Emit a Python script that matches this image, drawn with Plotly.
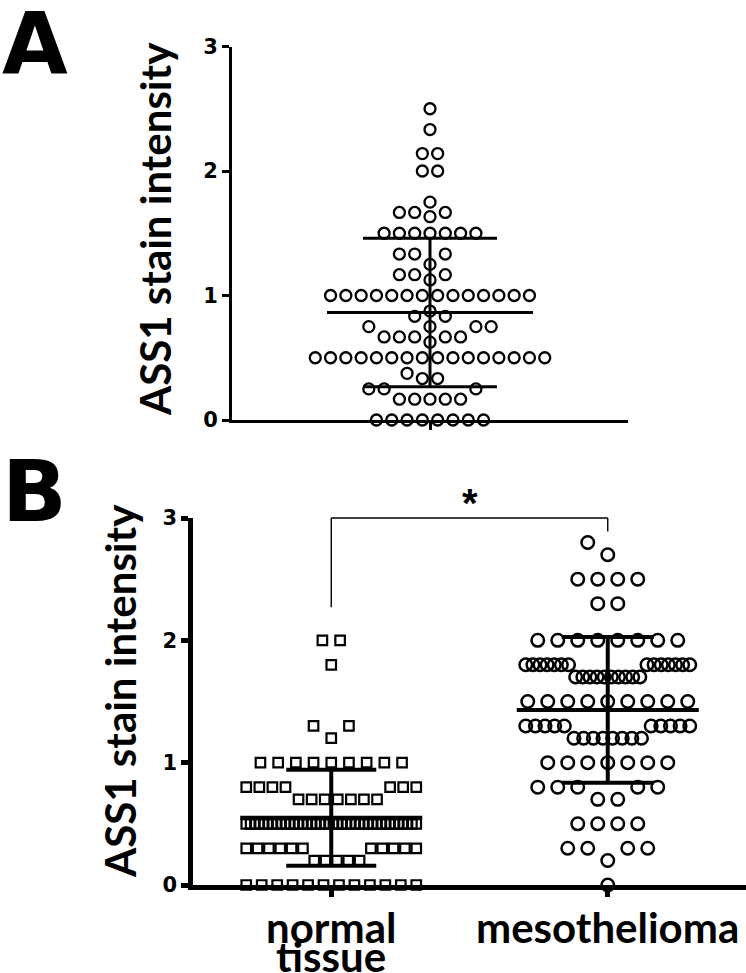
import numpy as np
import plotly.graph_objects as go

FIG_W, FIG_H = 746, 973

# ---------------- data ----------------
# Panel A: ASS1 stain intensity, single group (88 cases)
a_values = [
    0, 0, 0, 0, 0, 0, 0, 0,
    0.167, 0.167, 0.167, 0.167, 0.167,
    0.25, 0.25, 0.25,
    0.333, 0.333,
    0.375,
    0.5, 0.5, 0.5, 0.5, 0.5, 0.5, 0.5, 0.5, 0.5, 0.5, 0.5, 0.5, 0.5, 0.5, 0.5, 0.5,
    0.625,
    0.667, 0.667, 0.667, 0.667, 0.667,
    0.75, 0.75, 0.75, 0.75,
    0.833, 0.833,
    0.875,
    1.0, 1.0, 1.0, 1.0, 1.0, 1.0, 1.0, 1.0, 1.0, 1.0, 1.0, 1.0, 1.0, 1.0,
    1.125,
    1.167, 1.167, 1.167,
    1.25,
    1.333, 1.333, 1.333,
    1.5, 1.5, 1.5, 1.5, 1.5, 1.5, 1.5,
    1.633,
    1.667, 1.667, 1.667,
    1.75,
    2.0, 2.0,
    2.14, 2.14,
    2.333,
    2.5,
]

# Panel B categories and values
b_categories = ["normal tissue", "mesothelioma"]
normal_values = [
    0, 0, 0, 0, 0, 0, 0, 0, 0, 0, 0, 0,
    0.2, 0.2, 0.2, 0.2, 0.2,
    0.3, 0.3, 0.3, 0.3, 0.3, 0.3, 0.3, 0.3, 0.3, 0.3, 0.3,
    0.5, 0.5, 0.5, 0.5, 0.5, 0.5, 0.5, 0.5, 0.5, 0.5,
    0.5, 0.5, 0.5, 0.5, 0.5, 0.5, 0.5, 0.5, 0.5, 0.5,
    0.5, 0.5, 0.5, 0.5, 0.5, 0.5, 0.5, 0.5, 0.5, 0.5,
    0.5, 0.5, 0.5, 0.5, 0.5, 0.5, 0.5, 0.5, 0.5, 0.5,
    0.7, 0.7, 0.7, 0.7, 0.7, 0.7, 0.7,
    0.8, 0.8, 0.8, 0.8, 0.8, 0.8, 0.8,
    1.0, 1.0, 1.0, 1.0, 1.0, 1.0, 1.0, 1.0, 1.0,
    1.2,
    1.3, 1.3,
    1.8,
    2.0, 2.0,
]
meso_values = [
    0,
    0.2,
    0.3, 0.3, 0.3, 0.3,
    0.5, 0.5, 0.5, 0.5,
    0.7, 0.7,
    0.8, 0.8, 0.8, 0.8, 0.8,
    1.0, 1.0, 1.0, 1.0, 1.0, 1.0, 1.0,
    1.2, 1.2, 1.2, 1.2, 1.2, 1.2, 1.2, 1.2,
    1.3, 1.3, 1.3, 1.3, 1.3, 1.3, 1.3, 1.3, 1.3, 1.3,
    1.5, 1.5, 1.5, 1.5, 1.5, 1.5, 1.5, 1.5, 1.5,
    1.7, 1.7, 1.7, 1.7, 1.7, 1.7, 1.7, 1.7, 1.7, 1.7,
    1.8, 1.8, 1.8, 1.8, 1.8, 1.8, 1.8, 1.8, 1.8, 1.8, 1.8, 1.8, 1.8, 1.8,
    2.0, 2.0, 2.0, 2.0, 2.0, 2.0, 2.0, 2.0,
    2.3, 2.3,
    2.5, 2.5, 2.5, 2.5,
    2.7,
    2.8,
]
y_ticks = [0, 1, 2, 3]
y_title = "ASS1 stain intensity"
panel_labels = ["A", "B"]
sig_label = "*"

# ---------------- layout geometry (pixels) ----------------
A_X = (232, 628)
A_Y = (46.5, 420)
B_X = (193, 746)
B_Y = (518, 885)
Y_RANGE = [0, 3]
A_XRANGE = [-0.5, 0.5]
B_XRANGE = [-0.5, 1.5]


def px_x(p):
    return p / FIG_W


def px_y(p):
    return 1 - p / FIG_H


a_ppu_y = (A_Y[1] - A_Y[0]) / (Y_RANGE[1] - Y_RANGE[0])
b_ppu_y = (B_Y[1] - B_Y[0]) / (Y_RANGE[1] - Y_RANGE[0])
a_ppu_x = (A_X[1] - A_X[0]) / (A_XRANGE[1] - A_XRANGE[0])
b_ppu_x = (B_X[1] - B_X[0]) / (B_XRANGE[1] - B_XRANGE[0])


def swarm(values, ppu, s0, d, wmax, square):
    """Scatter-dot-plot layout: horizontal offsets (px) for each value."""
    keys = [round(v, 4) for v in values]
    levels = sorted(set(keys))
    counts = {lv: keys.count(lv) for lv in levels}
    rows = {}

    def hit(x, lv):
        for olv, xs in rows.items():
            dy = abs(olv - lv) * ppu
            if dy >= d:
                continue
            for ox in xs:
                dx = abs(ox - x)
                if square:
                    if dx < d:
                        return True
                elif dx * dx + dy * dy < d * d:
                    return True
        return False

    def slots(half):
        out = [] if half else [0.0]
        for i in range(0 if half else 1, 400):
            b = i + 0.5 if half else float(i)
            out += [-b, b]
        return out

    for lv in levels:
        n = counts[lv]
        best = None
        for half in ((n % 2 == 0), (n % 2 == 1)):
            chosen = []
            for sl in slots(half):
                x = sl * s0
                if not hit(x, lv):
                    chosen.append(x)
                    if len(chosen) == n:
                        break
            ext = max(abs(c) for c in chosen)
            if best is None or ext < best[0] - 1e-6:
                best = (ext, chosen)
        rows[lv] = sorted(best[1])
        if best[0] > wmax + 1e-6:
            placed = sorted(rows)
            i = placed.index(lv)
            lo = i
            while lo > 0 and (placed[lo] - placed[lo - 1]) * ppu < d:
                lo -= 1
            hi = i
            while hi < len(placed) - 1 and (placed[hi + 1] - placed[hi]) * ppu < d:
                hi += 1
            band = placed[lo:hi + 1]
            line = [band[0]] * counts[band[0]]
            for blv in band[1:]:
                m = counts[blv]
                left = (m + 1) // 2
                line = [blv] * left + line + [blv] * (m - left)
            N = len(line)
            sp = min(s0, 2 * wmax / (N - 1)) if N > 1 else s0
            newrows = {b: [] for b in band}
            for j, blv in enumerate(line):
                newrows[blv].append((j - (N - 1) / 2) * sp)
            rows.update(newrows)
    used = {lv: 0 for lv in levels}
    out = []
    for k in keys:
        out.append(rows[k][used[k]])
        used[k] += 1
    return out


fig = go.Figure()


def add_errorbars(center, vals, ppux, half_mean, half_cap, lw, xa, ya):
    m = float(np.mean(vals))
    sd = float(np.std(vals, ddof=1))
    hm = half_mean / ppux
    hc = half_cap / ppux
    segs = [
        ([center - hm, center + hm], [m, m]),
        ([center, center], [m - sd, m + sd]),
        ([center - hc, center + hc], [m + sd, m + sd]),
        ([center - hc, center + hc], [m - sd, m - sd]),
    ]
    for xs, ys in segs:
        fig.add_trace(go.Scatter(x=xs, y=ys, mode="lines", xaxis=xa, yaxis=ya,
                                 line=dict(color="black", width=lw),
                                 hoverinfo="skip", showlegend=False, cliponaxis=False))


# ---- Panel A ----
a_off = swarm(a_values, a_ppu_y, s0=15.3, d=14, wmax=115, square=False)
add_errorbars(0, a_values, a_ppu_x, 103, 67, 3, "x", "y")
fig.add_trace(go.Scatter(
    x=[o / a_ppu_x for o in a_off], y=a_values, mode="markers", xaxis="x", yaxis="y",
    marker=dict(symbol="circle-open", size=11, color="black", line=dict(width=2.3, color="black")),
    showlegend=False, cliponaxis=False))

# ---- Panel B ----
n_off = swarm(normal_values, b_ppu_y, s0=17.7, d=13, wmax=85, square=True)
m_off = swarm(meso_values, b_ppu_y, s0=20, d=16, wmax=82, square=False)
add_errorbars(0, normal_values, b_ppu_x, 91, 45, 4, "x2", "y2")
add_errorbars(1, meso_values, b_ppu_x, 91, 46, 4, "x2", "y2")
fig.add_trace(go.Scatter(
    x=[0 + o / b_ppu_x for o in n_off], y=normal_values, mode="markers", xaxis="x2", yaxis="y2",
    marker=dict(symbol="square-open", size=9.5, color="black", line=dict(width=2.2, color="black")),
    showlegend=False, cliponaxis=False))
fig.add_trace(go.Scatter(
    x=[1 + o / b_ppu_x for o in m_off], y=meso_values, mode="markers", xaxis="x2", yaxis="y2",
    marker=dict(symbol="circle-open", size=12.5, color="black", line=dict(width=2.5, color="black")),
    showlegend=False, cliponaxis=False))

# significance bracket (x on x2 axis, y as fraction of y2 domain)
def ydom(v):
    return (v - Y_RANGE[0]) / (Y_RANGE[1] - Y_RANGE[0])

bracket_top = 3.0
bracket_legs = [2.27, 2.89]
for xs, ys in [((0, 0), (bracket_legs[0], bracket_top)),
               ((0, 1), (bracket_top, bracket_top)),
               ((1, 1), (bracket_legs[1], bracket_top))]:
    fig.add_shape(type="line", xref="x2", yref="y2 domain",
                  x0=xs[0], x1=xs[1], y0=ydom(ys[0]), y1=ydom(ys[1]),
                  line=dict(color="black", width=1.4), layer="above")

tick_font = dict(family="DejaVu Sans", size=21, color="black", weight="bold")
axis_common = dict(showgrid=False, zeroline=False, showline=True, linecolor="black",
                   ticks="outside", tickcolor="black", ticklen=7, fixedrange=True,
                   automargin=False)

fig.update_layout(
    width=FIG_W, height=FIG_H,
    margin=dict(l=0, r=0, t=0, b=0, pad=0),
    paper_bgcolor="white", plot_bgcolor="white",
    showlegend=False,
    xaxis=dict(domain=[px_x(A_X[0]), px_x(A_X[1])], range=A_XRANGE, anchor="y",
               tickvals=[0], ticktext=[""], linewidth=3, tickwidth=3, **axis_common),
    yaxis=dict(domain=[px_y(A_Y[1]), px_y(A_Y[0])], range=Y_RANGE, anchor="x",
               tickvals=y_ticks, linewidth=3, tickwidth=3, tickfont=tick_font, **axis_common),
    xaxis2=dict(domain=[px_x(B_X[0]), px_x(B_X[1])], range=B_XRANGE, anchor="y2",
                tickvals=[0, 1], ticktext=["", ""], linewidth=4.5, tickwidth=4.5, **axis_common),
    yaxis2=dict(domain=[px_y(B_Y[1]), px_y(B_Y[0])], range=Y_RANGE, anchor="x2",
                tickvals=y_ticks, linewidth=4.5, tickwidth=4.5, tickfont=tick_font, **axis_common),
)

title_font = dict(family="Lato", size=42, color="black", weight="bold")
cat_font = dict(family="Lato", size=42, color="black", weight="bold")
ann = []
# panel letters
letter_font = dict(family="DejaVu Sans", size=85, color="black", weight="bold")
ann.append(dict(text=panel_labels[0], x=px_x(0), y=px_y(43), xref="paper", yref="paper",
                xanchor="left", yanchor="middle", showarrow=False, font=letter_font))
ann.append(dict(text=panel_labels[1], x=px_x(0), y=px_y(491), xref="paper", yref="paper",
                xanchor="left", yanchor="middle", showarrow=False, font=letter_font))
# y titles
ann.append(dict(text=y_title, x=px_x(155), y=px_y(229), xref="paper", yref="paper",
                textangle=-90, xanchor="center", yanchor="middle", showarrow=False, font=title_font))
ann.append(dict(text=y_title, x=px_x(120), y=px_y(691), xref="paper", yref="paper",
                textangle=-90, xanchor="center", yanchor="middle", showarrow=False, font=title_font))
# category labels (split into lines)
for i, cat in enumerate(b_categories):
    for j, word in enumerate(cat.split(" ")):
        ann.append(dict(text=word, x=i, xref="x2", y=px_y(927 + 29 * j), yref="paper",
                        xanchor="center", yanchor="middle", showarrow=False, font=cat_font))
# significance star
ann.append(dict(text=sig_label, x=0.5, xref="x2", y=px_y(503), yref="paper",
                xanchor="center", yanchor="middle", showarrow=False,
                font=dict(family="Liberation Sans", size=40, color="black", weight="bold")))
fig.update_layout(annotations=ann)

fig.write_html("out.html", config={"displayModeBar": False},
               post_script="document.body.style.margin='0px';")
